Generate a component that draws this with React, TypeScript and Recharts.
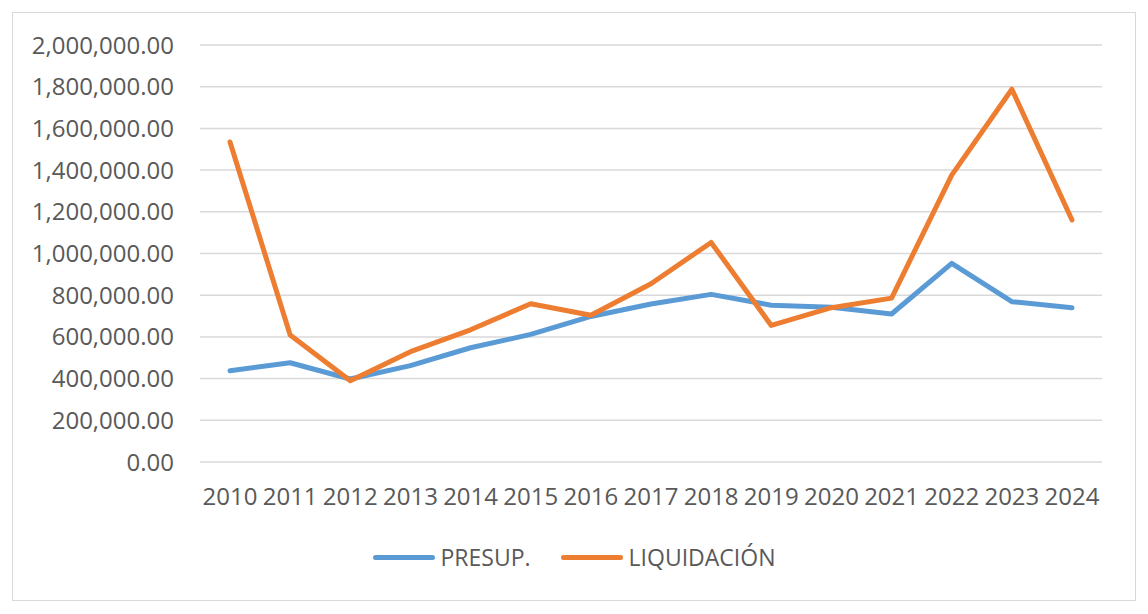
import { LineChart, Line, XAxis, YAxis, CartesianGrid, Legend } from 'recharts';

const years = ['2010', '2011', '2012', '2013', '2014', '2015', '2016', '2017', '2018', '2019', '2020', '2021', '2022', '2023', '2024'];
const presup = [438000, 476000, 398000, 462000, 548000, 612000, 698000, 758000, 804000, 752000, 742000, 710000, 953000, 769000, 740000];
const liquidacion = [1535000, 609000, 390000, 529000, 634000, 759000, 704000, 855000, 1053000, 655000, 740000, 786000, 1376000, 1788000, 1161000];
const yTicks = [0, 200000, 400000, 600000, 800000, 1000000, 1200000, 1400000, 1600000, 1800000, 2000000];

const data = years.map((year, i) => ({ year, presup: presup[i], liquidacion: liquidacion[i] }));

const BLUE = '#5B9BD5';
const ORANGE = '#ED7D31';
const TEXT = '#595959';
const FONT = '"Open Sans", sans-serif';

const fmt = (v: number) => v.toLocaleString('en-US', { minimumFractionDigits: 2, maximumFractionDigits: 2 });

function LegendBox() {
    const item = (color: string, label: string) => (
        <div style={{ display: 'flex', alignItems: 'center' }}>
            <div style={{ width: 62, height: 5, borderRadius: 3, background: color, marginRight: 6 }} />
            <span style={{ color: TEXT, fontSize: 23, fontFamily: FONT }}>{label}</span>
        </div>
    );
    return (
        <div style={{ display: 'flex', justifyContent: 'center', gap: 30 }}>
            {item(BLUE, 'PRESUP.')}
            {item(ORANGE, 'LIQUIDACIÓN')}
        </div>
    );
}

export default function App() {
    return (
        <div style={{ position: 'absolute', left: 0, top: 0, width: 1148, height: 614, background: '#fff' }}>
            <div style={{ position: 'absolute', left: 12, top: 12, width: 1122, height: 587, border: '1.5px solid #d9d9d9' }} />
            <LineChart width={1148} height={614} data={data} margin={{ top: 45, right: 46, bottom: 90, left: 0 }}>
                <CartesianGrid vertical={false} stroke="#d9d9d9" strokeWidth={1.5} />
                <XAxis
                    dataKey="year"
                    axisLine={false}
                    tickLine={false}
                    tickSize={0}
                    tickMargin={26}
                    padding={{ left: 30, right: 30 }}
                    interval={0}
                    tick={{ fill: TEXT, fontSize: 24, fontFamily: FONT }}
                />
                <YAxis
                    width={200}
                    domain={[0, 2000000]}
                    ticks={yTicks}
                    axisLine={false}
                    tickLine={false}
                    tickSize={0}
                    tickMargin={26}
                    tickFormatter={fmt}
                    tick={{ fill: TEXT, fontSize: 24, fontFamily: FONT }}
                />
                <Legend content={() => <LegendBox />} wrapperStyle={{ top: 541, left: 0, width: 1148 }} />
                <Line dataKey="presup" name="PRESUP." stroke={BLUE} strokeWidth={5} strokeLinecap="round" strokeLinejoin="round" dot={false} isAnimationActive={false} />
                <Line dataKey="liquidacion" name="LIQUIDACIÓN" stroke={ORANGE} strokeWidth={5} strokeLinecap="round" strokeLinejoin="round" dot={false} isAnimationActive={false} />
            </LineChart>
        </div>
    );
}
